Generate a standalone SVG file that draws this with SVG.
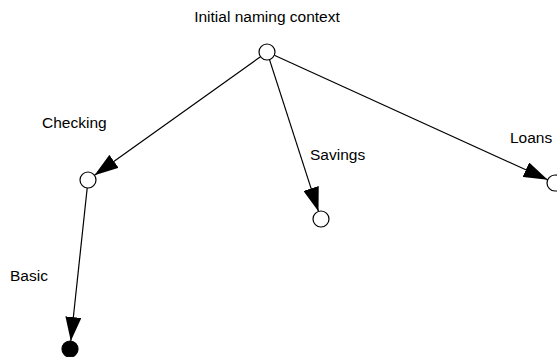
<svg xmlns="http://www.w3.org/2000/svg" width="557" height="357" viewBox="0 0 557 357">
<style>
.lbl{font-family:"Liberation Sans",Arial,sans-serif;font-size:15.5px;fill:#000}
.node{fill:#fff;stroke:#000;stroke-width:1.2}
.leaf{fill:#000;stroke:#000;stroke-width:1.2}
.edge{stroke:#000;stroke-width:1.2;fill:none;marker-end:url(#ah)}
</style>
<defs>
<marker id="ah" markerUnits="userSpaceOnUse" markerWidth="24" markerHeight="16" viewBox="0 0 24 16" refX="24" refY="8" orient="auto">
<polygon points="0,0 24,8 0,16" fill="#000"/>
</marker>
</defs>
<rect width="557" height="357" fill="#fff"/>
<g id="connectors">
<line class="edge" x1="260.5" y1="56.7" x2="94.5" y2="175.3"/>
<line class="edge" x1="269.5" y1="59.6" x2="318.5" y2="211.4"/>
<line class="edge" x1="274.3" y1="55.3" x2="547.7" y2="179.7"/>
<line class="edge" x1="87.2" y1="188" x2="70.8" y2="341"/>
</g>
<g id="root"><circle class="node" cx="267" cy="52" r="8"/><text class="lbl" x="267" y="22" text-anchor="middle">Initial naming context</text></g>
<g id="checking"><circle class="node" cx="88" cy="180" r="8"/><text class="lbl" x="42" y="128">Checking</text></g>
<g id="savings"><circle class="node" cx="321" cy="219" r="8"/><text class="lbl" x="310" y="160">Savings</text></g>
<g id="loans"><circle class="node" cx="555" cy="183" r="8"/><text class="lbl" x="510" y="143">Loans</text></g>
<g id="basic"><circle class="leaf" cx="70" cy="349" r="8"/><text class="lbl" x="10" y="281">Basic</text></g>
</svg>
